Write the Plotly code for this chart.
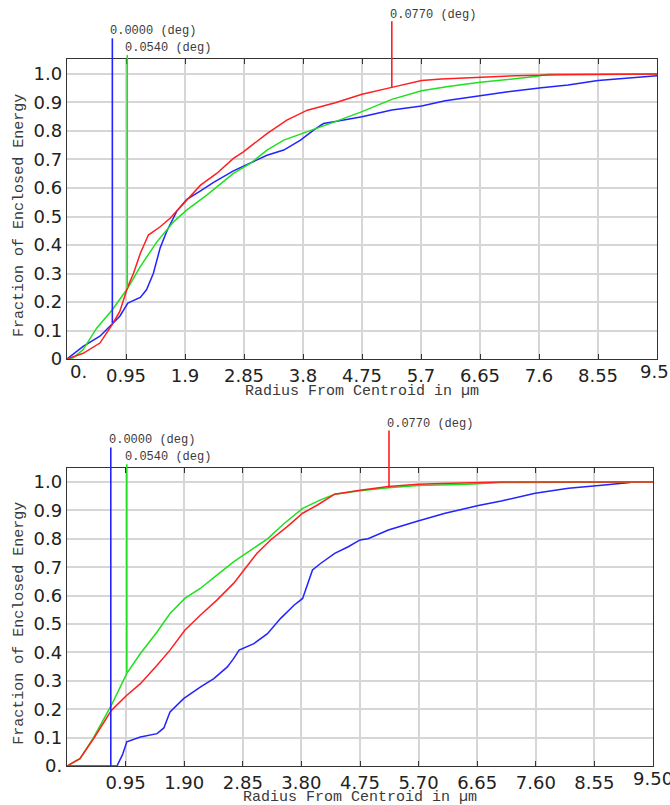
import plotly.graph_objects as go

# ---------------- data ----------------
field_labels = ["0.0000 (deg)", "0.0540 (deg)", "0.0770 (deg)"]
series_colors = ["#2323ff", "#1fe01f", "#ff1f1f"]

# top chart
blue_top_r = [0, 0.26, 0.53, 0.73, 0.85, 0.98, 1.18, 1.28, 1.39, 1.50, 1.61, 1.77, 1.93, 2.15, 2.36, 2.68,
              2.95, 3.22, 3.49, 3.76, 3.97, 4.13, 4.32, 4.75, 5.23, 5.71, 6.09, 6.62, 7.10, 7.64, 8.07,
              8.55, 8.99, 9.5]
blue_top_f = [0, 0.044, 0.08, 0.122, 0.15, 0.196, 0.216, 0.243, 0.30, 0.39, 0.45, 0.52, 0.56, 0.59, 0.62,
              0.66, 0.687, 0.715, 0.733, 0.768, 0.803, 0.826, 0.833, 0.850, 0.874, 0.888, 0.906, 0.924,
              0.938, 0.952, 0.961, 0.977, 0.985, 0.994]
green_top_r = [0, 0.10, 0.26, 0.48, 0.73, 0.98, 1.18, 1.45, 1.72, 1.93, 2.25, 2.68, 2.95, 3.22, 3.49,
               3.87, 4.32, 4.75, 5.23, 5.71, 6.14, 6.62, 7.10, 7.54, 7.75, 8.87, 9.5]
green_top_f = [0, 0.004, 0.033, 0.109, 0.173, 0.249, 0.324, 0.412, 0.482, 0.523, 0.575, 0.651, 0.686,
               0.733, 0.768, 0.797, 0.833, 0.868, 0.911, 0.941, 0.956, 0.970, 0.981, 0.991, 0.999, 1.0, 1.0]
red_top_r = [0, 0.26, 0.53, 0.73, 0.85, 0.98, 1.07, 1.18, 1.31, 1.50, 1.66, 1.93, 2.15, 2.41, 2.68, 2.84,
             3.22, 3.54, 3.87, 4.32, 4.75, 5.23, 5.71, 6.03, 6.62, 7.21, 7.97, 8.87, 9.5]
red_top_f = [0, 0.02, 0.056, 0.122, 0.167, 0.254, 0.30, 0.37, 0.435, 0.464, 0.494, 0.558, 0.61, 0.651,
             0.704, 0.727, 0.791, 0.838, 0.873, 0.899, 0.929, 0.953, 0.977, 0.982, 0.988, 0.994, 0.997,
             1.0, 1.0]
marker_r_top = [0.73, 0.97, 5.23]
marker_f_top = [0.126, 0.25, 0.953]

# bottom chart
blue_bot_r = [0, 0.81, 0.90, 0.97, 1.19, 1.46, 1.57, 1.67, 1.89, 2.16, 2.38, 2.60, 2.70, 2.79, 3.03, 3.25,
              3.46, 3.68, 3.82, 3.90, 3.98, 4.11, 4.34, 4.56, 4.75, 4.88, 5.21, 5.69, 6.13, 6.67, 7.04,
              7.59, 8.13, 8.67, 9.13]
blue_bot_f = [0, 0, 0.04, 0.085, 0.102, 0.114, 0.134, 0.19, 0.237, 0.278, 0.308, 0.349, 0.378, 0.408,
              0.431, 0.466, 0.519, 0.566, 0.59, 0.637, 0.69, 0.713, 0.749, 0.772, 0.796, 0.80, 0.831,
              0.863, 0.890, 0.917, 0.933, 0.960, 0.978, 0.989, 0.998]
green_bot_r = [0, 0.21, 0.43, 0.72, 0.97, 1.19, 1.46, 1.67, 1.91, 2.16, 2.43, 2.70, 2.98, 3.25, 3.52,
               3.82, 4.11, 4.34, 4.75, 5.21, 5.69, 6.50, 7.04, 9.5]
green_bot_f = [0, 0.026, 0.10, 0.214, 0.326, 0.396, 0.472, 0.537, 0.59, 0.625, 0.672, 0.719, 0.76, 0.80,
               0.854, 0.907, 0.937, 0.957, 0.969, 0.980, 0.988, 0.992, 0.998, 1.0]
red_bot_r = [0, 0.21, 0.43, 0.72, 0.97, 1.19, 1.46, 1.67, 1.91, 2.16, 2.43, 2.70, 2.87, 3.08, 3.30, 3.57,
             3.82, 4.06, 4.34, 4.75, 5.21, 5.69, 6.07, 7.04, 9.5]
red_bot_f = [0, 0.026, 0.096, 0.196, 0.249, 0.29, 0.355, 0.408, 0.478, 0.531, 0.584, 0.643, 0.69, 0.749,
             0.796, 0.843, 0.89, 0.919, 0.957, 0.971, 0.984, 0.992, 0.995, 1.0, 1.0]
marker_r_bot = [0.71, 0.97, 5.22]
marker_f_bot = [0.0, 0.33, 0.98]

# ticks
x_tickvals = [0.95, 1.9, 2.85, 3.8, 4.75, 5.7, 6.65, 7.6, 8.55, 9.5]
x_ticktext_top = ["0.95", "1.9", "2.85", "3.8", "4.75", "5.7", "6.65", "7.6", "8.55", "9.5"]
x_zero_label_top = "0."
x_ticktext_bot = ["0.95", "1.90", "2.85", "3.80", "4.75", "5.70", "6.65", "7.60", "8.55", "9.50"]
y_tickvals = [0, 0.1, 0.2, 0.3, 0.4, 0.5, 0.6, 0.7, 0.8, 0.9, 1.0]
y_ticktext_top = ["0", "0.1", "0.2", "0.3", "0.4", "0.5", "0.6", "0.7", "0.8", "0.9", "1.0"]
y_ticktext_bot = ["0.", "0.1", "0.2", "0.3", "0.4", "0.5", "0.6", "0.7", "0.8", "0.9", "1.0"]
x_title = "Radius From Centroid in µm"
y_title = "Fraction of Enclosed Energy"

# ---------------- figure ----------------
fig = go.Figure()

top_series = [(blue_top_r, blue_top_f), (green_top_r, green_top_f), (red_top_r, red_top_f)]
bot_series = [(blue_bot_r, blue_bot_f), (green_bot_r, green_bot_f), (red_bot_r, red_bot_f)]

for (r, f), c, name in zip(top_series, series_colors, field_labels):
    fig.add_trace(go.Scatter(x=r, y=f, mode="lines", line=dict(color=c, width=1.5),
                             name=name, xaxis="x", yaxis="y", showlegend=False))
for (r, f), c, name in zip(bot_series, series_colors, field_labels):
    fig.add_trace(go.Scatter(x=r, y=f, mode="lines", line=dict(color=c, width=1.5),
                             name=name, xaxis="x2", yaxis="y2", showlegend=False))

YR_TOP = [0, 1.0526]
YR_BOT = [0, 1.0493]
tick_font = dict(family="DejaVu Sans", size=18, color="#222222")
mono_title = dict(family="Liberation Mono", size=15, color="#3a3a3a")
mono_lab = dict(family="Liberation Mono", size=12, color="#3a3a3a")
grid_col = "#d6d6d6"
frame_col = "#333333"

W = 670
H = 815        # the page is captured a little taller than the 805px target
REF_H = 805    # domain fractions are taken from the 805px reference layout


def xaxis_cfg(domain, anchor, ticktext):
    return dict(domain=domain, anchor=anchor, range=[0, 9.5], tickmode="array",
                tickvals=x_tickvals, ticktext=ticktext, ticks="inside", ticklen=5,
                tickcolor=frame_col, tickwidth=1, showline=True, linecolor=frame_col,
                linewidth=1.3, mirror="ticks", showgrid=True, gridcolor=grid_col, gridwidth=1.5,
                zeroline=False, tickfont=tick_font)


def yaxis_cfg(domain, anchor, rng, ticktext):
    return dict(domain=domain, anchor=anchor, range=rng, tickmode="array",
                tickvals=y_tickvals, ticktext=ticktext, ticks="", showline=True,
                linecolor=frame_col, linewidth=1.3, mirror=True, showgrid=True,
                gridcolor=grid_col, gridwidth=1.5, zeroline=False, tickfont=tick_font)


def yaxis_right(overlay, anchor, rng):
    return dict(overlaying=overlay, anchor=anchor, side="right", range=rng, tickmode="array",
                tickvals=y_tickvals, ticks="inside", ticklen=5, tickcolor=frame_col,
                showticklabels=False, showgrid=False, zeroline=False, showline=False)


fig.update_layout(
    width=W, height=H,
    margin=dict(l=0, r=0, t=0, b=0),
    paper_bgcolor="white", plot_bgcolor="white",
    showlegend=False,
    xaxis=xaxis_cfg([67 / W, 657 / W], "y", x_ticktext_top),
    yaxis=yaxis_cfg([1 - 359 / REF_H, 1 - 59 / REF_H], "x", YR_TOP, y_ticktext_top),
    xaxis2=xaxis_cfg([67 / W, 653 / W], "y2", x_ticktext_bot),
    yaxis2=yaxis_cfg([1 - 766 / REF_H, 1 - 468 / REF_H], "x2", YR_BOT, y_ticktext_bot),
    yaxis3=yaxis_right("y", "x", YR_TOP),
    yaxis4=yaxis_right("y2", "x2", YR_BOT),
)

shapes = []
annotations = []
label_y = [1.093, 1.036, 1.147]
line_top = [1.069, 1.013, 1.126]
last_shift = [-3, 0]
for k, (xa, ya, mr, mf, rng, xt) in enumerate([("x", "y", marker_r_top, marker_f_top, YR_TOP, x_ticktext_top),
                                               ("x2", "y2", marker_r_bot, marker_f_bot, YR_BOT, x_ticktext_bot)]):
    for i in range(3):
        col = series_colors[i]
        shapes.append(dict(type="line", xref=xa, yref=ya, x0=mr[i], x1=mr[i], y0=mf[i], y1=rng[1],
                           line=dict(color=col, width=1.6)))
        shapes.append(dict(type="line", xref=xa, yref=ya + " domain", x0=mr[i], x1=mr[i], y0=1.0,
                           y1=line_top[i], line=dict(color=col, width=1.6)))
        annotations.append(dict(text=field_labels[i], xref=xa, yref=ya + " domain", x=mr[i],
                                y=label_y[i], xanchor="left", yanchor="middle", xshift=-4,
                                showarrow=False, font=mono_lab))
    annotations.append(dict(text=x_title, xref=xa + " domain", yref=ya + " domain", x=0.5,
                            y=-0.107, xanchor="center", yanchor="middle", showarrow=False,
                            font=mono_title))
    annotations.append(dict(text=y_title, xref="paper", yref=ya + " domain", x=20 / W, y=0.477,
                            xanchor="center", yanchor="middle", textangle=-90, showarrow=False,
                            font=mono_title))
    # last tick label sits on the page edge (the axis hides it), so draw it as text
    annotations.append(dict(text=xt[-1], xref=xa, yref=ya + " domain", x=x_tickvals[-1],
                            y=-0.042, xanchor="center", yanchor="middle", xshift=last_shift[k],
                            showarrow=False, font=tick_font))

annotations.append(dict(text=x_zero_label_top, xref="x", yref="y domain", x=0, y=-0.042,
                        xanchor="left", yanchor="middle", xshift=1, showarrow=False, font=tick_font))

fig.update_layout(shapes=shapes, annotations=annotations)

page_fix = (
    "var e=document.documentElement.style;e.margin='0';e.padding='0';e.overflow='hidden';"
    "var b=document.body.style;b.margin='0';b.padding='0';b.overflow='hidden';"
    "b.fontSize='0';b.lineHeight='0';"
)
fig.write_html("out.html", config={"displayModeBar": False}, post_script=page_fix)
